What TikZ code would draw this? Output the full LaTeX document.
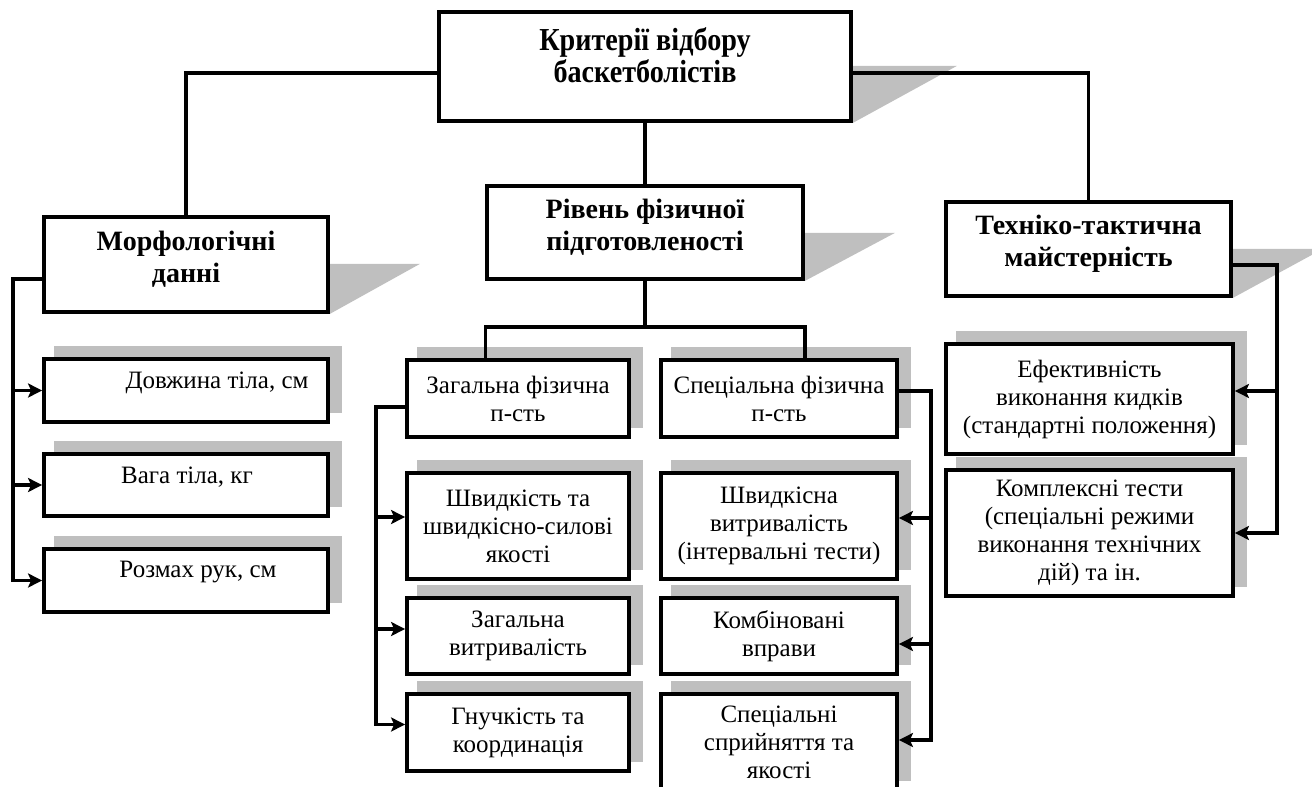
\documentclass[tikz,border=0pt]{standalone}
\usepackage{fontspec}
\setmainfont{Liberation Serif}
\newfontfamily\narrowserif[FakeStretch=0.88]{Liberation Serif}
\usetikzlibrary{arrows.meta,backgrounds,calc}

\begin{document}
\begin{tikzpicture}[x=1pt,y=-1pt,
  box/.style={draw, line width=3.8pt, fill=white, rectangle, inner sep=0pt, align=center},
  bodytext/.style={font=\fontsize{25}{28}\selectfont, align=center},
  headtext/.style={font=\bfseries\fontsize{28}{32}\selectfont, align=center},
  wire/.style={line width=3.2pt},
  arr/.style={wire, -{Stealth[length=14pt,width=14pt,inset=3pt]}},
  shade/.style={fill=black!25}]

\clip (0,0) rectangle (1312,787);

% main header and the three criteria groups
\node[box, minimum width=412pt, minimum height=109pt] (top) at (645,66.5) {};
\node[font=\narrowserif\bfseries\fontsize{32}{32}\selectfont, align=center] (title) at (645,55)
  {Критерії відбору\\баскетболістів};
\node[box, minimum width=284pt, minimum height=95pt] (morf) at (186,264.5) {};
\node[headtext] (morft) at (186,259) {Морфологічні\\данні};
\node[box, minimum width=316pt, minimum height=93pt] (rivn) at (645,232.5) {};
\node[headtext] (rivnt) at (645,227) {Рівень фізичної\\підготовленості};
\node[box, minimum width=285pt, minimum height=94pt] (tech) at (1088.5,249) {};
\node[headtext] (techt) at (1088.5,243.5) {Техніко-тактична\\майстерність};

% morphological data
\node[box, minimum width=284pt, minimum height=63pt] (m1) at (186,390.5) {};
\node[box, minimum width=284pt, minimum height=62pt] (m2) at (186,485) {};
\node[box, minimum width=284pt, minimum height=63pt] (m3) at (186,580.5) {};
\node[bodytext] (m1t) at (217,383) {Довжина тіла, см};
\node[bodytext] (m2t) at (187,477) {Вага тіла, кг};
\node[bodytext] (m3t) at (198,572) {Розмах рук, см};

% physical preparedness
\node[box, bodytext, minimum width=222pt, minimum height=77pt] (gen) at (518,398.5) {Загальна фізична\\п-сть};
\node[box, bodytext, minimum width=236pt, minimum height=77pt] (spec) at (779,398.5) {Спеціальна фізична\\п-сть};
\node[box, bodytext, minimum width=222pt, minimum height=106pt] (g1) at (518,526) {Швидкість та\\швидкісно-силові\\якості};
\node[box, bodytext, minimum width=222pt, minimum height=76pt] (g2) at (518,636) {Загальна\\витривалість};
\node[box, bodytext, minimum width=222pt, minimum height=77pt] (g3) at (518,732.5) {Гнучкість та\\координація};
\node[box, bodytext, minimum width=236pt, minimum height=106pt] (s1) at (779,526) {Швидкісна\\витривалість\\(інтервальні тести)};
\node[box, bodytext, minimum width=236pt, minimum height=76pt] (s2) at (779,636) {Комбіновані\\вправи};
\node[box, bodytext, minimum width=236pt, minimum height=96pt] (s3) at (779,742) {Спеціальні\\сприйняття та\\якості};

% technical and tactical skill
\node[box, bodytext, minimum width=287pt, minimum height=110pt] (e1) at (1089.5,399) {Ефективність\\виконання кидків\\(стандартні положення)};
\node[box, bodytext, minimum width=287pt, minimum height=126pt] (e2) at (1089.5,533) {Комплексні тести\\(спеціальні режими\\виконання технічних\\дій) та ін.};

% shadows behind the boxes
\begin{pgfonlayer}{background}
  \foreach \n/\h/\w in {top/57/104, morf/50/90, rivn/48/90, tech/49/90}{
    \fill[shade] (\n.south east) -- ($(\n.south east)+(0,-\h)$) -- ($(\n.south east)+(\w,-\h)$) -- cycle;
  }
  \foreach \n in {m1,m2,m3,gen,spec,g1,g2,g3,s1,s2,s3,e1,e2}{
    \fill[shade] ($(\n.south west)+(12,-11)$) rectangle ($(\n.north east)+(12,-11)$);
  }
\end{pgfonlayer}

% top level links
\draw[wire] ($(top.west)+(0,6.5)$) -| (morf.north);
\draw[wire] ($(top.east)+(0,6.5)$) -| (tech.north);
\draw[wire] (top.south) -- (rivn.north);

\coordinate (fork) at (645,327);
\draw[wire] (rivn.south) -- (fork);
\draw[wire] (gen.north -| rivn.west) |- (fork) -| (spec.north -| rivn.east);

% morphological branch
\coordinate (mbus) at (13,279);
\draw[arr] ($(morf.west)+(0,14.5)$) -- (mbus) |- (m3.west);
\draw[arr] (mbus |- m1.west) -- (m1.west);
\draw[arr] (mbus |- m2.west) -- (m2.west);

% general physical branch
\coordinate (gbus) at (376,407);
\coordinate (g1in) at ($(g1.west)+(0,-9)$);
\coordinate (g2in) at ($(g2.west)+(0,-7)$);
\coordinate (g3in) at ($(g3.west)+(0,-8)$);
\draw[arr] ($(gen.west)+(0,8.5)$) -- (gbus) |- (g3in);
\draw[arr] (gbus |- g1in) -- (g1in);
\draw[arr] (gbus |- g2in) -- (g2in);

% special physical branch
\coordinate (sbus) at (931,391);
\coordinate (s1in) at ($(s1.east)+(0,-8)$);
\coordinate (s2in) at ($(s2.east)+(0,8)$);
\coordinate (s3in) at ($(s3.east)+(0,-2)$);
\draw[arr] ($(spec.east)+(0,-7.5)$) -- (sbus) |- (s3in);
\draw[arr] (sbus |- s1in) -- (s1in);
\draw[arr] (sbus |- s2in) -- (s2in);

% technical branch
\coordinate (tbus) at (1277,265);
\coordinate (e1in) at ($(e1.east)+(0,-8)$);
\draw[arr] ($(tech.east)+(0,16)$) -- (tbus) |- (e2.east);
\draw[arr] (tbus |- e1in) -- (e1in);

\end{tikzpicture}
\end{document}
